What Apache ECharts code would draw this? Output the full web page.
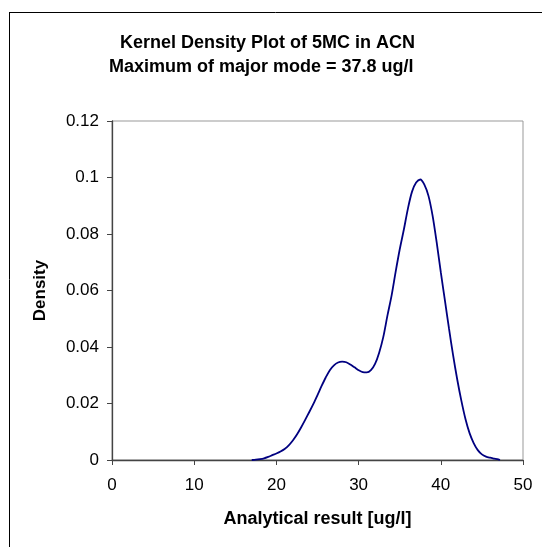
<!DOCTYPE html>
<html>
<head>
<meta charset="utf-8">
<script src="https://cdn.jsdelivr.net/npm/echarts@6/dist/echarts.min.js"></script>
<style>html,body{margin:0;padding:0;background:#fff;}#c{width:547px;height:547px;}</style>
</head>
<body>
<div id="c"></div>
<script>
const titleLines = ['Kernel Density Plot of 5MC in ACN', 'Maximum of major mode = 37.8 ug/l'];
const xAxisName = 'Analytical result [ug/l]';
const yAxisName = 'Density';
const xTicks = [0, 10, 20, 30, 40, 50];
const yTicks = [0, 0.02, 0.04, 0.06, 0.08, 0.1, 0.12];
const resultX = [17.0,17.5,18.0,18.5,19.0,19.5,20.0,20.5,21.0,21.5,22.0,22.5,23.0,23.5,24.0,24.5,25.0,25.5,26.0,26.5,27.0,27.5,28.0,28.5,29.0,29.5,30.0,30.5,31.0,31.5,32.0,32.5,33.0,33.5,34.0,34.5,35.0,35.5,36.0,36.5,37.0,37.5,38.0,38.5,39.0,39.5,40.0,40.5,41.0,41.5,42.0,42.5,43.0,43.5,44.0,44.5,45.0,45.5,46.0,46.5,47.0,47.2];
const densityY = [0.0000,0.0001,0.0003,0.0006,0.0011,0.0017,0.0023,0.0030,0.0039,0.0052,0.0069,0.0090,0.0115,0.0142,0.0170,0.0199,0.0230,0.0262,0.0292,0.0318,0.0335,0.0345,0.0348,0.0346,0.0338,0.0328,0.0318,0.0311,0.0310,0.0318,0.0340,0.0380,0.0435,0.0510,0.0580,0.0665,0.0745,0.0815,0.0890,0.0950,0.0982,0.0993,0.0975,0.0935,0.0865,0.0770,0.0665,0.0565,0.0465,0.0370,0.0285,0.0210,0.0145,0.0095,0.0060,0.0035,0.0020,0.0012,0.0008,0.0005,0.0002,0.0000];

const chart = echarts.init(document.getElementById('c'), null, {renderer: 'canvas'});
const font = 'Liberation Sans, Arial, sans-serif';
chart.setOption({
  animation: false,
  backgroundColor: '#fff',
  title: [
    {text: titleLines[0], left: 120, top: 34, padding: 0,
     textStyle: {fontFamily: font, fontSize: 18, fontWeight: 'bold', color: '#000'}},
    {text: titleLines[1], left: 109, top: 58, padding: 0,
     textStyle: {fontFamily: font, fontSize: 18, fontWeight: 'bold', color: '#000'}}
  ],
  graphic: [
    {type: 'line', shape: {x1: 9.5, y1: 12, x2: 9.5, y2: 547}, style: {stroke: '#000', lineWidth: 1}},
    {type: 'line', shape: {x1: 9, y1: 12.5, x2: 542, y2: 12.5}, style: {stroke: '#000', lineWidth: 1}}
  ],
  grid: {left: 112, right: 24, top: 121, bottom: 87, show: true, borderColor: '#999', borderWidth: 1, backgroundColor: '#fff'},
  xAxis: {
    type: 'value', min: xTicks[0], max: xTicks[xTicks.length - 1], interval: 10,
    name: xAxisName, nameLocation: 'middle', nameGap: 50,
    nameTextStyle: {fontFamily: font, fontSize: 18, fontWeight: 'bold', color: '#000'},
    axisLine: {show: true, onZero: false, lineStyle: {color: '#444', width: 1.3}},
    axisTick: {show: true, inside: false, length: 5, lineStyle: {color: '#444'}},
    axisLabel: {fontFamily: font, fontSize: 17, color: '#000', margin: 17},
    splitLine: {show: false}
  },
  yAxis: {
    type: 'value', min: yTicks[0], max: yTicks[yTicks.length - 1], interval: 0.02,
    name: yAxisName, nameLocation: 'middle', nameGap: 63, nameRotate: 90,
    nameTextStyle: {fontFamily: font, fontSize: 17, fontWeight: 'bold', color: '#000'},
    axisLine: {show: true, lineStyle: {color: '#444', width: 1.3}},
    axisTick: {show: true, inside: false, length: 5, lineStyle: {color: '#444'}},
    axisLabel: {fontFamily: font, fontSize: 17, color: '#000', margin: 13,
      formatter: v => String(+v.toFixed(2))},
    splitLine: {show: false}
  },
  series: [{
    type: 'line', data: resultX.map((x, i) => [x, densityY[i]]),
    showSymbol: false, smooth: 0.3,
    lineStyle: {color: '#000080', width: 1.8}
  }]
});
</script>
</body>
</html>
